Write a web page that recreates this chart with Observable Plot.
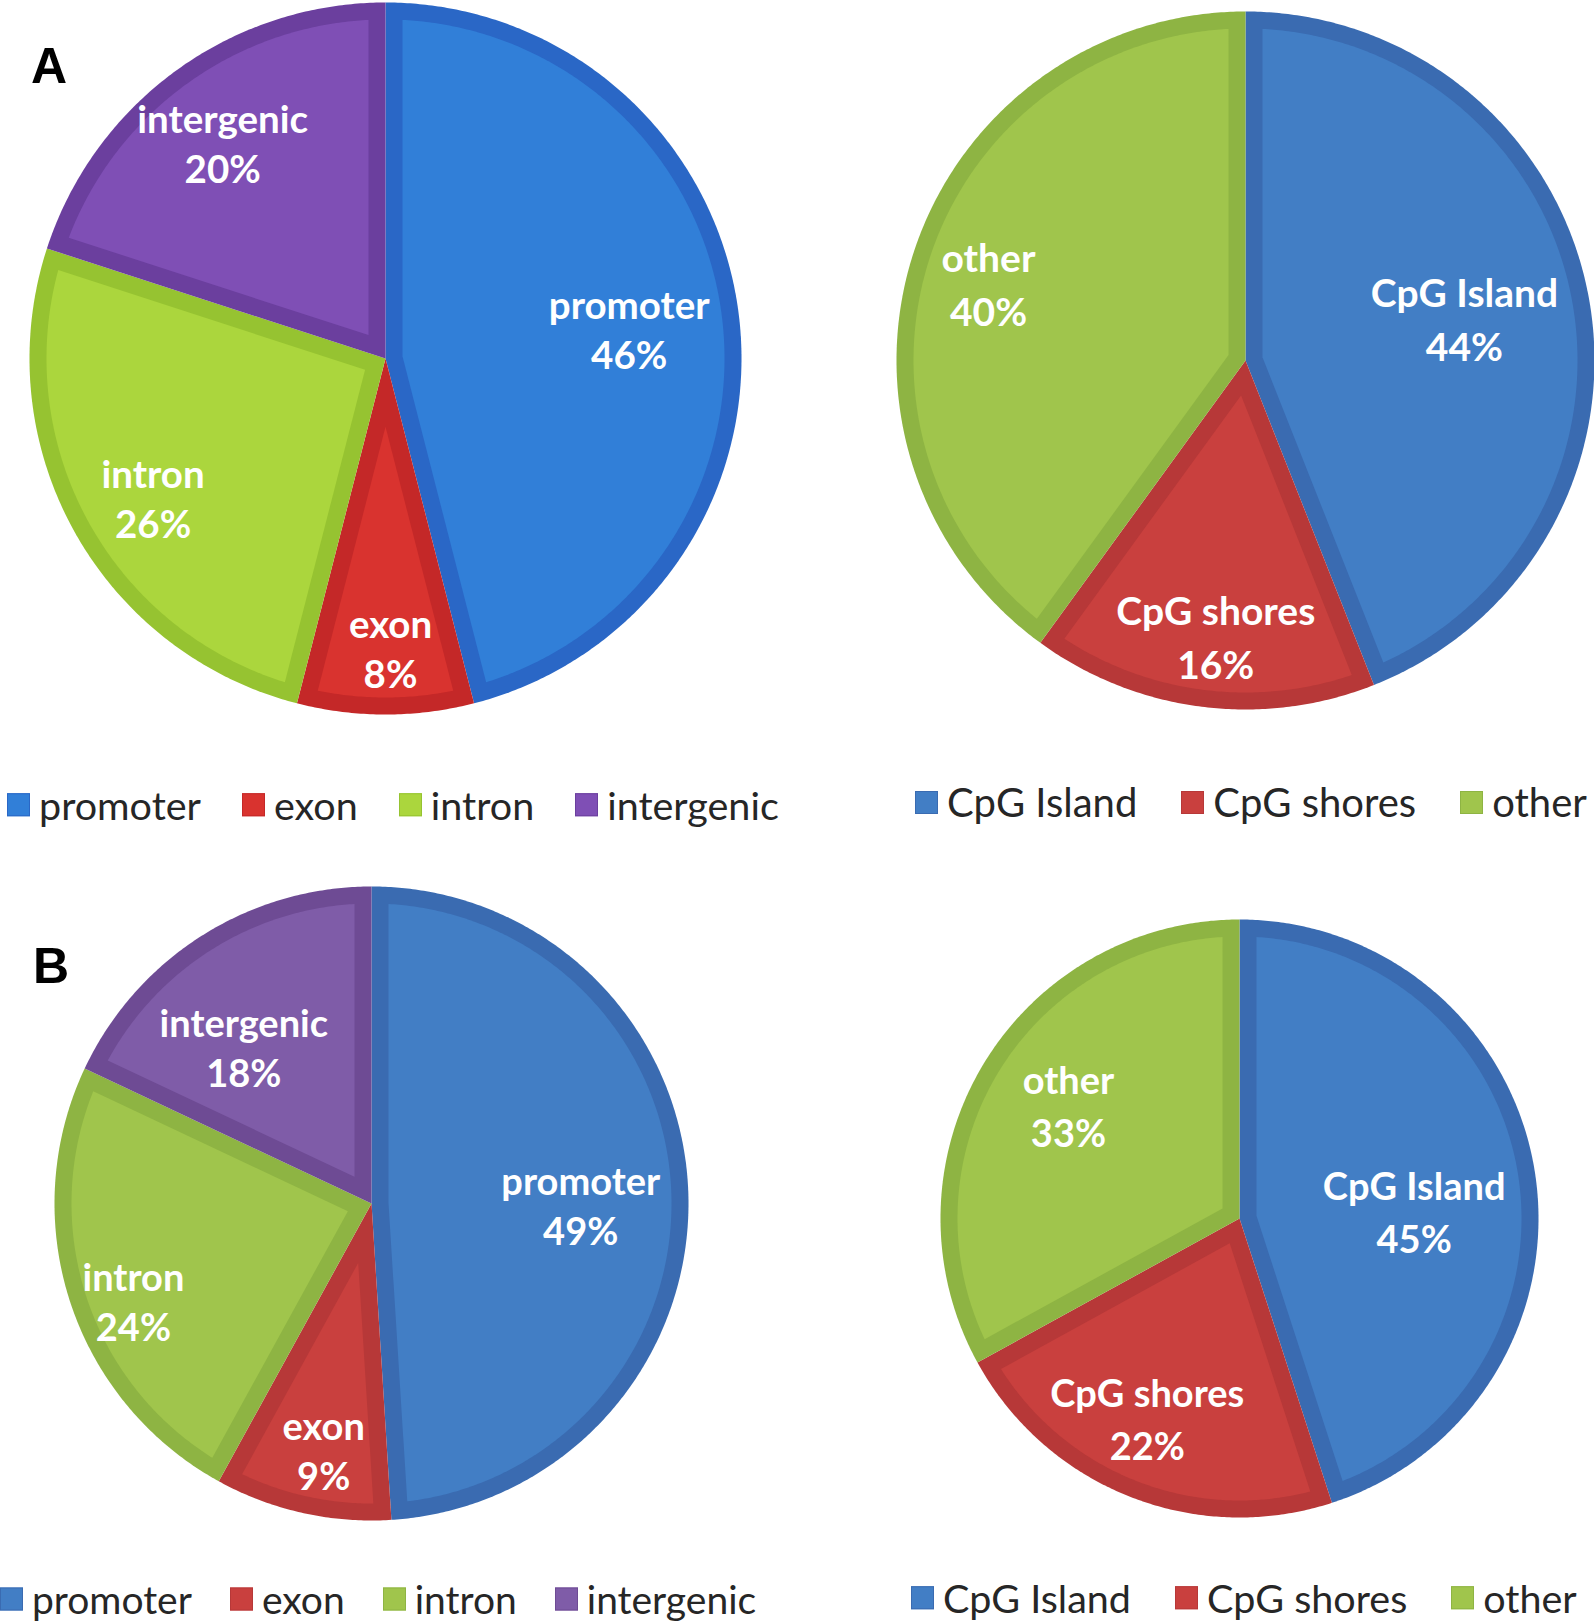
<!DOCTYPE html>
<html><head><meta charset="utf-8">
<script src="https://cdn.jsdelivr.net/npm/d3@7"></script>
<script src="https://cdn.jsdelivr.net/npm/@observablehq/plot@0.6"></script>
<style>
body{margin:0;background:#fff;}
#root{position:relative;width:1594px;height:1622px;overflow:hidden;background:#fff;}
.pie{position:absolute;}
.legend{position:absolute;display:flex;align-items:center;font-family:Lato,sans-serif;font-size:39.5px;line-height:1;color:#262626;white-space:nowrap;transform:translateY(-50%);}
.item{display:flex;align-items:center;}
.sw{width:23px;height:23px;margin-right:9px;box-sizing:border-box;border:1.5px solid;}
.letter{position:absolute;font-family:"Liberation Sans",Arial,sans-serif;font-weight:bold;font-size:50px;line-height:1;color:#000;}
</style></head><body><div id="root"></div>
<script>
// ---- data ----
const regionCategories = ["promoter", "exon", "intron", "intergenic"];
const regionValuesA = [46, 8, 26, 20];
const regionValuesB = [49, 9, 24, 18];
const cpgCategories = ["CpG Island", "CpG shores", "other"];
const cpgValuesA = [44, 16, 40];
const cpgValuesB = [45, 22, 33];

// ---- styles ----
const regionFillsA = ["#317fd8", "#d9332f", "#abd63d", "#7f4fb5"];
const regionBordersA = ["#2a67c6", "#c42828", "#96c331", "#6b3f9e"];
const regionFillsB = ["#427ec5", "#c9403e", "#a0c54c", "#7f5ca8"];
const regionBordersB = ["#3a6bb1", "#b73838", "#8eb443", "#6e4b94"];
const cpgFills = ["#427ec5", "#c9403e", "#a0c54c"];
const cpgBorders = ["#3a6bb1", "#b73838", "#8eb443"];

// ---- layout ----
const panels = [
  {cats: regionCategories, values: regionValuesA, fills: regionFillsA, borders: regionBordersA,
   cx: 385, cy: 358, r: 356, w: 17, fontSize: 38.5, lineGap: 50,
   labelR: [0.69, 0.81, 0.76, 0.76], labelShift: [0, -1, -2, -1],
   legendX: 7, legendY: 805, legendGap: 41, legendFont: 39.5},
  {cats: cpgCategories, values: cpgValuesA, fills: cpgFills, borders: cpgBorders,
   cx: 1245, cy: 360, r: 349, w: 17, fontSize: 39, lineGap: 54,
   labelR: [0.64, 0.79, 0.77], labelShift: [-0.6, -1, -1],
   legendX: 915, legendY: 802, legendGap: 44, legendFont: 40},
  {cats: regionCategories, values: regionValuesB, fills: regionFillsB, borders: regionBordersB,
   cx: 371, cy: 1203, r: 317, w: 17, fontSize: 38, lineGap: 50,
   labelR: [0.66, 0.79, 0.81, 0.64], labelShift: [2, -1.6, -4, -6.6],
   legendX: 0, legendY: 1599, legendGap: 38, legendFont: 39},
  {cats: cpgCategories, values: cpgValuesB, fills: cpgFills, borders: cpgBorders,
   cx: 1239, cy: 1218, r: 299, w: 17, fontSize: 38, lineGap: 53,
   labelR: [0.585, 0.73, 0.69], labelShift: [6, 3.4, 3.4],
   legendX: 911, legendY: 1598, legendGap: 44, legendFont: 39.5}
];
const letters = [{t: "A", x: 31, y: 41}, {t: "B", x: 33, y: 941}];

const root = document.getElementById("root");
const pt = (R, a) => [R * Math.sin(a), -R * Math.cos(a)];
function arcPts(R, a0, a1) {
  const n = Math.max(2, Math.ceil((a1 - a0) / (Math.PI / 360)));
  return d3.range(n + 1).map(k => pt(R, a0 + (a1 - a0) * k / n));
}
function feature(ring, color) {
  return {type: "Feature", properties: {color}, geometry: {type: "Polygon", coordinates: [ring]}};
}

for (const p of panels) {
  const total = d3.sum(p.values);
  let acc = 0;
  const slices = p.values.map((v, i) => {
    const a0 = acc / total * 2 * Math.PI; acc += v;
    const a1 = acc / total * 2 * Math.PI;
    return {i, v, cat: p.cats[i], a0, a1};
  });
  const outer = slices.map(s => feature([[0, 0], ...arcPts(p.r, s.a0, s.a1), [0, 0]], p.borders[s.i]));
  const inner = slices.map(s => {
    const R = p.r - p.w, da = Math.asin(p.w / R), mid = (s.a0 + s.a1) / 2;
    const apex = pt(p.w / Math.sin((s.a1 - s.a0) / 2), mid);
    return feature([apex, ...arcPts(R, s.a0 + da, s.a1 - da), apex], p.fills[s.i]);
  });
  const labels = slices.map(s => {
    const mid = (s.a0 + s.a1) / 2 + p.labelShift[s.i] * Math.PI / 180;
    const [x, y] = pt(p.r * p.labelR[s.i], mid);
    return {x, y, text: `${s.cat}\n${s.v}%`};
  });
  const chart = Plot.plot({
    width: 2 * p.r, height: 2 * p.r,
    margin: 0,
    projection: {type: "identity", domain: {type: "MultiPoint", coordinates: [[-p.r, -p.r], [p.r, p.r]]}},
    color: {type: "identity"},
    style: {background: "transparent", overflow: "visible"},
    marks: [
      Plot.geo(outer, {fill: d => d.properties.color}),
      Plot.geo(inner, {fill: d => d.properties.color}),
      Plot.text(labels, {x: "x", y: "y", text: "text", fill: "white", fontSize: p.fontSize,
        fontWeight: 700, fontFamily: "Lato", lineHeight: p.lineGap / p.fontSize, lineAnchor: "middle"})
    ]
  });
  chart.classList.add("pie");
  chart.style.left = (p.cx - p.r) + "px";
  chart.style.top = (p.cy - p.r) + "px";
  root.appendChild(chart);

  const leg = document.createElement("div");
  leg.className = "legend";
  leg.style.left = p.legendX + "px";
  leg.style.top = p.legendY + "px";
  leg.style.gap = p.legendGap + "px";
  leg.style.fontSize = p.legendFont + "px";
  p.cats.forEach((c, i) => {
    const it = document.createElement("div"); it.className = "item";
    const sw = document.createElement("span"); sw.className = "sw";
    sw.style.background = p.fills[i]; sw.style.borderColor = p.borders[i];
    const tx = document.createElement("span"); tx.textContent = c;
    it.appendChild(sw); it.appendChild(tx); leg.appendChild(it);
  });
  root.appendChild(leg);
}
for (const l of letters) {
  const d = document.createElement("div"); d.className = "letter";
  d.textContent = l.t; d.style.left = l.x + "px"; d.style.top = l.y + "px";
  root.appendChild(d);
}
</script></body></html>
